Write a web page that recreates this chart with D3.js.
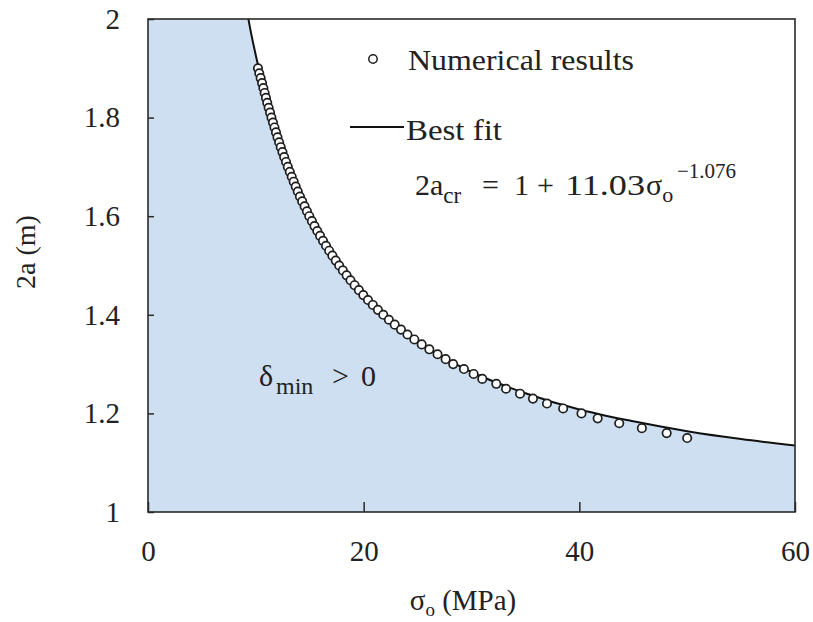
<!DOCTYPE html>
<html>
<head>
<meta charset="utf-8">
<script src="https://cdn.jsdelivr.net/npm/d3@7"></script>
<style>
  html, body { margin: 0; padding: 0; background: #fff; }
  svg text { font-family: "Liberation Serif", "Times New Roman", serif; fill: #222; }
</style>
</head>
<body>
<svg id="chart" width="813" height="622"></svg>
<script>
// ---- data ----
const xTickValues = [0, 20, 40, 60];
const xTickLabels = ["0", "20", "40", "60"];
const yTickValues = [1, 1.2, 1.4, 1.6, 1.8, 2];
const yTickLabels = ["1", "1.2", "1.4", "1.6", "1.8", "2"];

// numerical results: sigma_o (MPa)
const numSigma = [
  10.2, 10.32, 10.45, 10.58, 10.7, 10.82, 10.94, 11.06, 11.19, 11.32,
  11.45, 11.59, 11.73, 11.87, 12.01, 12.16, 12.31, 12.47, 12.63, 12.8,
  12.97, 13.15, 13.33, 13.51, 13.7, 13.89, 14.09, 14.3, 14.52, 14.74,
  14.96, 15.2, 15.44, 15.7, 15.96, 16.23, 16.51, 16.8, 17.1, 17.41,
  17.73, 18.07, 18.42, 18.78, 19.16, 19.56, 19.97, 20.4, 20.85, 21.32,
  21.82, 22.34, 22.88, 23.46, 24.06, 24.7, 25.38, 26.09, 26.85, 27.6,
  28.3, 29.3, 30.2, 31.0, 32.3, 33.2, 34.5, 35.7, 37.0, 38.5,
  40.2, 41.7, 43.7, 45.8, 48.1, 50.0
];
// numerical results: 2a (m)
const num2a = [
  1.90, 1.89, 1.88, 1.87, 1.86, 1.85, 1.84, 1.83, 1.82, 1.81,
  1.80, 1.79, 1.78, 1.77, 1.76, 1.75, 1.74, 1.73, 1.72, 1.71,
  1.70, 1.69, 1.68, 1.67, 1.66, 1.65, 1.64, 1.63, 1.62, 1.61,
  1.60, 1.59, 1.58, 1.57, 1.56, 1.55, 1.54, 1.53, 1.52, 1.51,
  1.50, 1.49, 1.48, 1.47, 1.46, 1.45, 1.44, 1.43, 1.42, 1.41,
  1.40, 1.39, 1.38, 1.37, 1.36, 1.35, 1.34, 1.33, 1.32, 1.31,
  1.30, 1.29, 1.28, 1.27, 1.26, 1.25, 1.24, 1.23, 1.22, 1.21,
  1.20, 1.19, 1.18, 1.17, 1.16, 1.15
];

// best-fit curve
const fitSigma = [9.31, 9.5, 10, 10.5, 11, 11.5, 12, 13, 14, 15, 16, 17, 18, 20, 22, 25, 27, 30, 35, 40, 45, 50, 55, 60];
const fit2a    = [2.0, 1.978, 1.926, 1.879, 1.836, 1.797, 1.761, 1.699, 1.645, 1.599, 1.558, 1.523, 1.492, 1.439, 1.396, 1.346, 1.318, 1.284, 1.241, 1.208, 1.184, 1.164, 1.148, 1.135];

// ---- layout ----
const svg = d3.select("#chart");
const mLeft = 148, mRight = 795, mTop = 19, mBottom = 512;
const x = d3.scaleLinear().domain([0, 60]).range([mLeft, mRight]);
const y = d3.scaleLinear().domain([1, 2]).range([mBottom, mTop]);

const FILL = "#cddff1";
const INK = "#2a2a2a";
const SERIF = "font-family:'Liberation Serif','Times New Roman',serif";

svg.append("defs").append("clipPath").attr("id", "plotclip")
  .append("rect").attr("x", mLeft).attr("y", mTop).attr("width", mRight - mLeft).attr("height", mBottom - mTop);

const fitData = fitSigma.map((s, i) => ({ s, v: fit2a[i] }));
const line = d3.line().x(d => x(d.s)).y(d => y(d.v)).curve(d3.curveMonotoneX);
const linePath = line(fitData);

// shaded region (delta_min > 0): left of / below the fitted boundary
const areaPath = "M" + x(0) + "," + y(1) + "L" + x(0) + "," + y(2) + "L" + linePath.slice(1) +
  "L" + x(60) + "," + y(1) + "Z";
svg.append("path").attr("d", areaPath).attr("fill", FILL).attr("clip-path", "url(#plotclip)");

// fit line
svg.append("path").attr("d", linePath).attr("fill", "none").attr("stroke", "#111")
  .attr("stroke-width", 2).attr("clip-path", "url(#plotclip)");

// numerical points
const pts = numSigma.map((s, i) => ({ s, v: num2a[i] }));
svg.append("g").selectAll("circle").data(pts).join("circle")
  .attr("cx", d => x(d.s)).attr("cy", d => y(d.v)).attr("r", 4.2)
  .attr("fill", "#fff").attr("stroke", "#1e1e1e").attr("stroke-width", 1.7);

// axes
const xAxis = d3.axisBottom(x).tickValues(xTickValues)
  .tickFormat((d, i) => xTickLabels[i]).tickSizeInner(-10).tickSizeOuter(0).tickPadding(28);
const gx = svg.append("g").attr("transform", `translate(0,${mBottom})`).call(xAxis);
const yAxis = d3.axisLeft(y).tickValues(yTickValues)
  .tickFormat((d, i) => yTickLabels[i]).tickSizeInner(-6).tickSizeOuter(0).tickPadding(28);
const gy = svg.append("g").attr("transform", `translate(${mLeft},0)`).call(yAxis);
[gx, gy].forEach(g => {
  g.select(".domain").remove();
  g.selectAll(".tick line").attr("stroke", INK).attr("stroke-width", 1.5);
  g.selectAll(".tick text").attr("font-size", 29).attr("style", SERIF).attr("fill", "#222");
});

// frame
svg.append("rect").attr("x", mLeft).attr("y", mTop).attr("width", mRight - mLeft).attr("height", mBottom - mTop)
  .attr("fill", "none").attr("stroke", INK).attr("stroke-width", 1.6);

// axis titles
const xt = svg.append("text").attr("x", 463).attr("y", 610).attr("text-anchor", "middle")
  .attr("font-size", 29).attr("style", SERIF);
xt.append("tspan").text("σ");
xt.append("tspan").attr("font-size", 19).attr("dy", 6).text("o");
xt.append("tspan").attr("dy", -6).text(" (MPa)");

svg.append("text").attr("transform", "translate(35,252) rotate(-90)").attr("text-anchor", "middle")
  .attr("font-size", 28).attr("style", SERIF).text("2a (m)");

// legend
svg.append("circle").attr("cx", 373).attr("cy", 59).attr("r", 4.2)
  .attr("fill", "#fff").attr("stroke", "#1e1e1e").attr("stroke-width", 1.5);
svg.append("text").attr("x", 408).attr("y", 70).attr("font-size", 29).attr("style", SERIF)
  .attr("textLength", 226).attr("lengthAdjust", "spacingAndGlyphs").text("Numerical results");
svg.append("line").attr("x1", 350).attr("x2", 404).attr("y1", 127).attr("y2", 127)
  .attr("stroke", "#111").attr("stroke-width", 2);
svg.append("text").attr("x", 406).attr("y", 140).attr("font-size", 29).attr("style", SERIF)
  .attr("textLength", 96).attr("lengthAdjust", "spacingAndGlyphs").text("Best fit");

// equation
const eq = svg.append("text").attr("y", 195).attr("font-size", 30).attr("style", SERIF);
eq.append("tspan").attr("x", 415).text("2a");
eq.append("tspan").attr("font-size", 23).attr("dy", 8).text("cr");
eq.append("tspan").attr("x", 482).attr("dy", -8).text("=");
eq.append("tspan").attr("x", 514).text("1");
eq.append("tspan").attr("x", 537).text("+");
eq.append("tspan").attr("x", 565).attr("textLength", 80).attr("lengthAdjust", "spacingAndGlyphs").text("11.03");
eq.append("tspan").attr("x", 646).text("σ");
eq.append("tspan").attr("font-size", 22).attr("dy", 7).text("o");
eq.append("tspan").attr("x", 677).attr("font-size", 21).attr("dy", -24).text("−1.076");

// region label
const dl = svg.append("text").attr("y", 386).attr("font-size", 30).attr("style", SERIF);
dl.append("tspan").attr("x", 259).text("δ");
dl.append("tspan").attr("x", 276).attr("font-size", 24).attr("dy", 8).text("min");
dl.append("tspan").attr("x", 332).attr("dy", -8).text(">");
dl.append("tspan").attr("x", 361).text("0");
</script>
</body>
</html>
